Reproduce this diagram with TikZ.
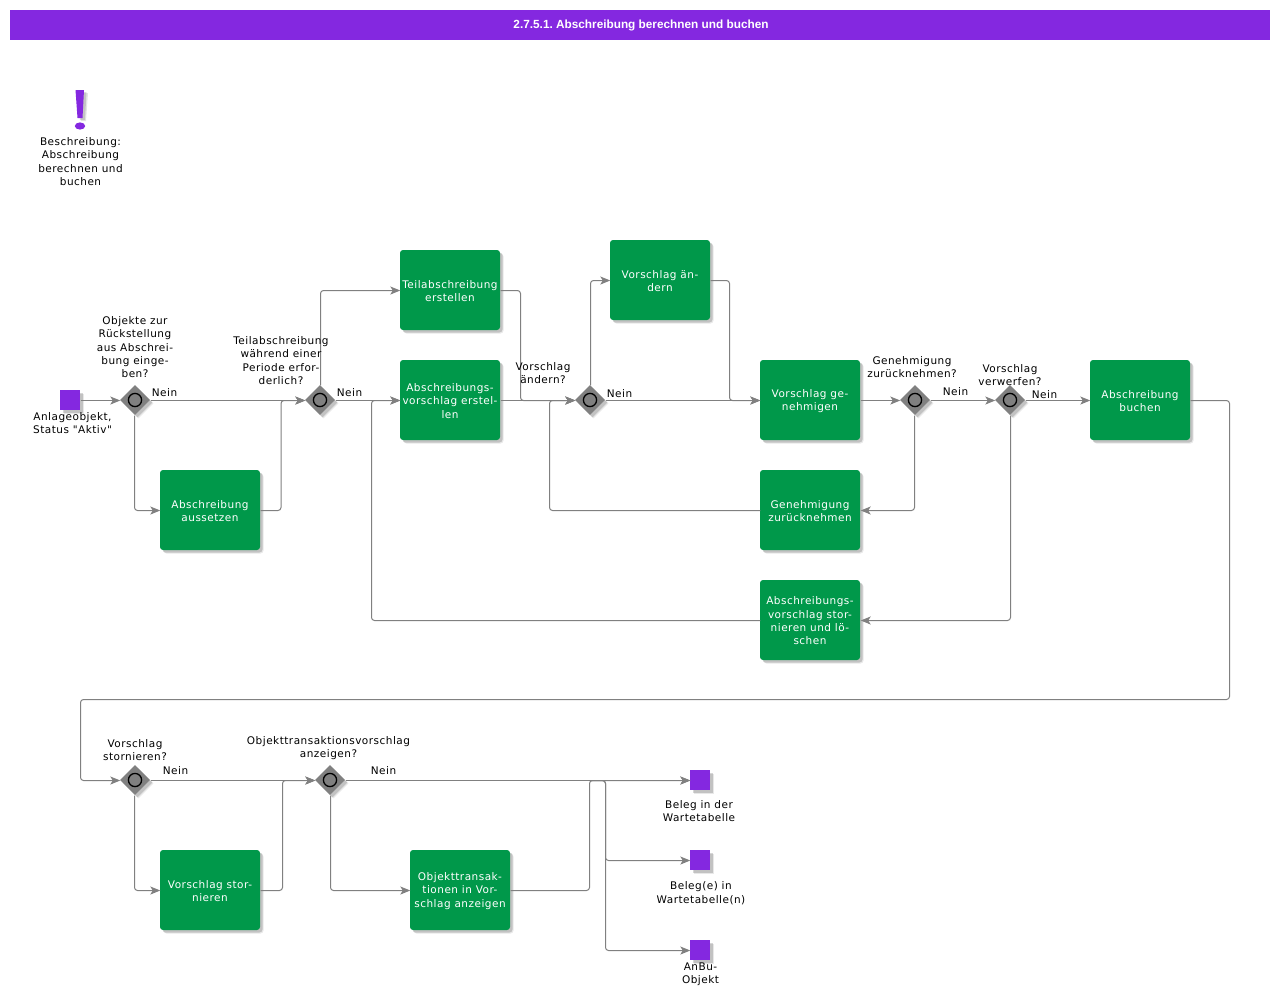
\documentclass[tikz,border=0pt]{standalone}
\usepackage{fontspec}
\setmainfont{DejaVu Sans}[LetterSpace=4.6,Ligatures=TeXOff]
\newfontfamily\titlefont{Liberation Sans}
\usetikzlibrary{shapes.geometric,shadows,arrows.meta}
\definecolor{purp}{HTML}{8428E0}
\definecolor{grn}{HTML}{00984A}
\definecolor{gwgray}{HTML}{808080}
\frenchspacing
\newcommand\Tup{\rule{0pt}{10pt}}
\tikzset{
  softshadow/.style={general shadow={shadow xshift=3.5pt,shadow yshift=-3.5pt,fill=black,opacity=.09},
    general shadow={shadow xshift=2.5pt,shadow yshift=-2.5pt,fill=black,opacity=.16}},
  taskbox/.style={rectangle,rounded corners=3pt,fill=grn,text=white,minimum width=100pt,minimum height=80pt,
    inner sep=0pt,align=center,softshadow,font=\fontsize{10.5}{13.3}\selectfont},
  gate/.style={diamond,aspect=1,fill=gwgray,minimum size=30pt,inner sep=0pt,softshadow,
    path picture={\draw[line width=1.3pt] (path picture bounding box.center) circle (6.6pt);}},
  term/.style={rectangle,fill=purp,minimum size=20pt,inner sep=0pt,softshadow},
  lbl/.style={inner sep=0pt,align=center,text=black,yshift=-0.7pt,font=\fontsize{10.5}{13.3}\selectfont},
  conn/.style={draw=gwgray,line width=1pt,rounded corners=3pt,transform canvas={xshift=0.5pt,yshift=-0.5pt}},
  arr/.style={conn,-{Stealth[length=10pt,width=8pt,inset=2.5pt]}}
}
\begin{document}
\begin{tikzpicture}[x=1pt,y=-1pt]
\useasboundingbox (0,0) rectangle (1280,997);
\fill[white] (0,0) rectangle (1280,997);
\node[rectangle,fill=purp,minimum width=1260pt,minimum height=30pt,inner sep=0pt,text=white,font=\titlefont\bfseries\fontsize{11.8}{14}\selectfont] (title) at (640,25) {\raisebox{-1.8pt}{\hspace{2pt}2.7.5.1. Abschreibung berechnen und buchen}};
% exclamation icon
\fill[black,opacity=.10] (79,93) -- (88,93) -- (86,121) -- (81,121) -- cycle;
\fill[black,opacity=.14] (78,92) -- (86.5,92) -- (85,120) -- (80,120) -- cycle;
\fill[purp] (75.5,90) -- (84,90) -- (82.5,118) -- (77.5,118) -- cycle;
\fill[purp] (80,126) ellipse (5.2pt and 3.6pt);
% terminals
\node[term] (start) at (70,400) {};
\node[term] (end1) at (700,780) {};
\node[term] (end2) at (700,860) {};
\node[term] (end3) at (700,950) {};
% gateways
\node[gate] (g1) at (135,400) {};
\node[gate] (g2) at (320,400) {};
\node[gate] (g3) at (590,400) {};
\node[gate] (g4) at (915,400) {};
\node[gate] (g5) at (1010,400) {};
\node[gate] (g6) at (135,780) {};
\node[gate] (g7) at (330,780) {};
% tasks
\node[taskbox] (aus) at (210,510) {\Tup Abschreibung\\aussetzen};
\node[taskbox] (teil) at (450,290) {\Tup Teilabschreibung\\erstellen};
\node[taskbox] (avs) at (450,400) {\Tup Abschreibungs-\\vorschlag erstel-\\len};
\node[taskbox] (aend) at (660,280) {\Tup Vorschlag än-\\dern};
\node[taskbox] (gen) at (810,400) {\Tup Vorschlag ge-\\nehmigen};
\node[taskbox] (zur) at (810,510) {\Tup Genehmigung\\zurücknehmen};
\node[taskbox] (sto) at (810,620) {\Tup Abschreibungs-\\vorschlag stor-\\nieren und lö-\\schen};
\node[taskbox] (buch) at (1140,400) {\Tup Abschreibung\\buchen};
\node[taskbox] (vst) at (210,890) {\Tup Vorschlag stor-\\nieren};
\node[taskbox] (obj) at (460,890) {\Tup Objekttransak-\\tionen in Vor-\\schlag anzeigen};
% junctions
\coordinate (j1) at (280.5,400);
\coordinate (j2) at (520,400);
\coordinate (j3) at (729,400);
\coordinate (j4) at (549,400);
\coordinate (j5) at (371,400);
\coordinate (j6) at (589,780);
\coordinate (j7) at (282,780);
\coordinate (j8) at (605,780);
\coordinate (r1) at (1229,400);
\coordinate (r2) at (1229,699);
\coordinate (r3) at (80,699);
\coordinate (r4) at (80,780);
% connectors
\draw[arr] (start.east) -- (g1.west);
\draw[arr] (g1.east) -- (g2.west);
\draw[arr] ([xshift=-1pt]g1.south) |- (aus.west);
\draw[arr] (aus.east) -| (j1) -- (g2.west);
\draw[arr] (g2.north) |- (teil.west);
\draw[arr] (g2.east) -- (avs.west);
\draw[arr] (teil.east) -| (j2) -- (g3.west);
\draw[arr] (avs.east) -- (g3.west);
\draw[arr] (g3.north) |- (aend.west);
\draw[arr] (g3.east) -- (gen.west);
\draw[arr] (aend.east) -| (j3) -- (gen.west);
\draw[arr] (gen.east) -- (g4.west);
\draw[arr] (g4.east) -- (g5.west);
\draw[arr] ([xshift=-1pt]g4.south) |- (zur.east);
\draw[arr] (zur.west) -| (j4) -- (g3.west);
\draw[arr] (g5.east) -- (buch.west);
\draw[arr] (g5.south) |- (sto.east);
\draw[arr] (sto.west) -| (j5) -- (avs.west);
\draw[arr] (buch.east) -- (r1) -- (r2) -- (r3) -- (r4) -- (g6.west);
\draw[arr] (g6.east) -- (g7.west);
\draw[arr] ([xshift=-1pt]g6.south) |- (vst.west);
\draw[arr] (vst.east) -| (j7) -- (g7.west);
\draw[arr] (g7.east) -- (end1.west);
\draw[arr] (g7.south) |- (obj.west);
\draw[arr] (obj.east) -| (j6) -- (end1.west);
\draw[arr] (j6) -- (j8) |- (end2.west);
\draw[arr] (j6) -- (j8) |- (end3.west);
% labels
\node[lbl] (lb0) at (80.5,161) {Beschreibung:\\Abschreibung\\berechnen und\\buchen};
\node[lbl] (lb1) at (72.5,422.5) {Anlageobjekt,\\Status "Aktiv"};
\node[lbl] (lb2) at (135,346.5) {Objekte zur\\Rückstellung\\aus Abschrei-\\bung einge-\\ben?};
\node[lbl] (lb3) at (281,360) {Teilabschreibung\\während einer\\Periode erfor-\\derlich?};
\node[lbl] (lb4) at (543,372.5) {Vorschlag\\ändern?};
\node[lbl] (lb5) at (912,366.5) {Genehmigung\\zurücknehmen?};
\node[lbl] (lb6) at (1010,374.5) {Vorschlag\\verwerfen?};
\node[lbl] (lb7) at (135,749.5) {Vorschlag\\stornieren?};
\node[lbl] (lb8) at (328.5,747.5) {Objekttransaktionsvorschlag\\anzeigen?};
\node[lbl] (lb9) at (699,810.5) {Beleg in der\\Wartetabelle};
\node[lbl] (lb10) at (701,892.5) {Beleg(e) in\\Wartetabelle(n)};
\node[lbl] (lb11) at (700.5,973.5) {AnBu-\\Objekt};
\node[lbl] (n1) at (164.5,392) {Nein};
\node[lbl] (n2) at (349.5,392) {Nein};
\node[lbl] (n3) at (619.5,393) {Nein};
\node[lbl] (n4) at (955.5,391) {Nein};
\node[lbl] (n5) at (1044.5,394) {Nein};
\node[lbl] (n6) at (175.5,770) {Nein};
\node[lbl] (n7) at (383.5,770) {Nein};
\end{tikzpicture}
\end{document}
